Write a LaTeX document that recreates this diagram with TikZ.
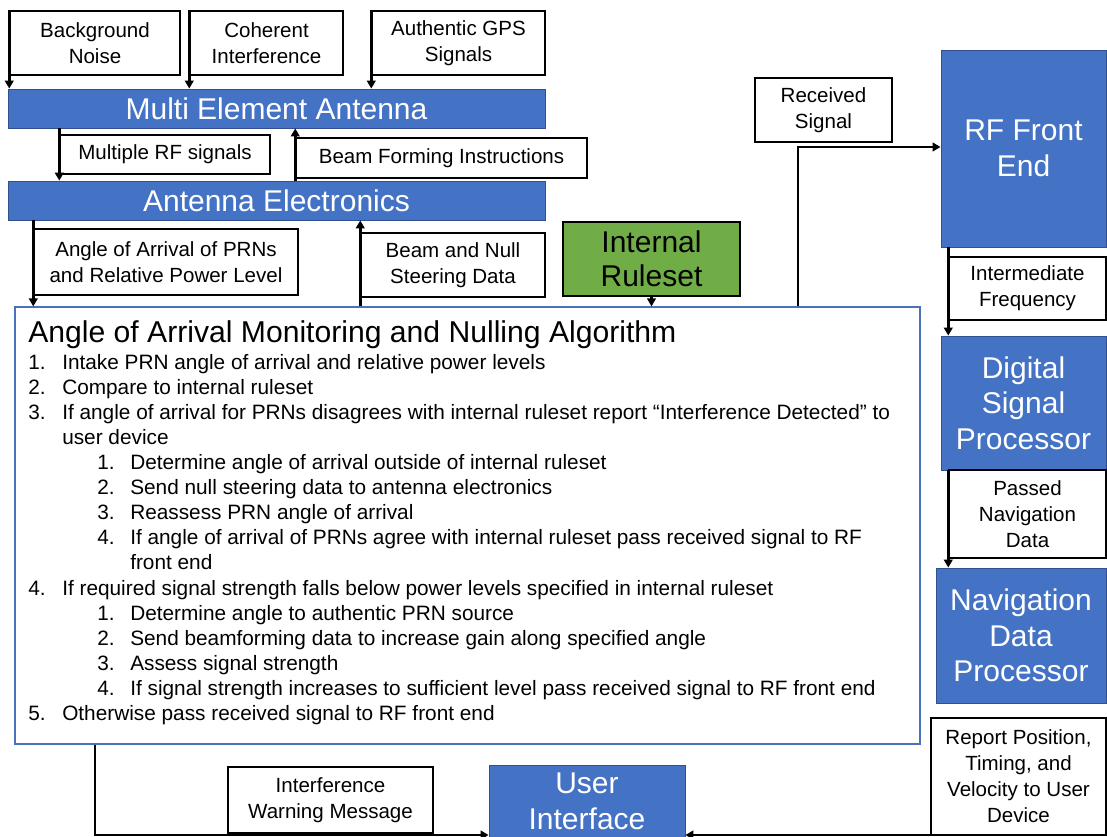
\documentclass[tikz,border=0pt]{standalone}
\usepackage{fontspec}
\setmainfont{Liberation Sans}
\usetikzlibrary{arrows.meta,calc}
\definecolor{boxblue}{HTML}{4472C4}
\definecolor{boxblueedge}{HTML}{2F528F}
\definecolor{rulegreen}{HTML}{70AD47}
\definecolor{algedge}{HTML}{4A72B8}
% \spanbox{style}{x1}{y1}{x2}{y2}{name} starts a rectangular node between two corners
\newcommand{\spanbox}[6]{\node[#1, minimum width={(#4-#2)*0.75pt}, minimum height={(#5-#3)*0.75pt},
  anchor=center] (#6) at ({(#2+#4)/2},{(#3+#5)/2})}
\begin{document}
\begin{tikzpicture}[x=0.75pt,y=-0.75pt,
  lbl/.style={draw=black, line width=1.1pt, fill=white, inner sep=0pt, align=center,
    font=\fontsize{15.4}{19.5}\selectfont},
  blk/.style={draw=boxblueedge, line width=0.6pt, fill=boxblue, text=white, inner sep=0pt,
    align=center, font=\fontsize{22.5}{26.6}\selectfont},
  rules/.style={draw=black, line width=1.1pt, fill=rulegreen, text=black, inner sep=0pt,
    align=center, font=\fontsize{22.5}{25.5}\selectfont},
  algbox/.style={draw=algedge, line width=0.9pt, fill=white, inner sep=0pt},
  algtitle/.style={inner sep=0pt, anchor=base west, font=\fontsize{22.6}{27}\selectfont},
  algline/.style={inner sep=0pt, anchor=base west, font=\fontsize{15.6}{18.8}\selectfont},
  flow/.style={draw=black, line width=2.2pt, -{Triangle[length=6pt,width=6.5pt]}}]

\useasboundingbox (0,0) rectangle (1107,837);
\clip (0,0) rectangle (1107,837);

% signal sources and antenna chain
\spanbox{lbl}{10}{11}{180}{75}{bgn} {Background\\Noise};
\spanbox{lbl}{190}{11}{343}{75}{coh} {Coherent\\Interference};
\spanbox{lbl}{372}{11}{545}{75}{gps} {Authentic GPS\\Signals};
\spanbox{blk}{8}{89}{545}{128}{mea} {Multi Element Antenna};
\spanbox{lbl}{60}{135}{270}{174}{mrf} {Multiple RF signals};
\spanbox{lbl}{296}{138}{587}{178}{bfi} {Beam Forming Instructions};
\spanbox{blk}{8}{181}{545}{220}{ae} {Antenna Electronics};
\spanbox{lbl}{34}{229}{298}{295}{aoa} {Angle of Arrival of PRNs\\and Relative Power Level};
\spanbox{lbl}{361}{233}{545}{297}{bns} {Beam and Null\\Steering Data};
\spanbox{rules}{563}{222}{740}{296}{irs} {Internal\\Ruleset};

% algorithm block
\spanbox{algbox}{15}{307}{920}{744}{alg} {};
\node[algtitle] (ttl) at (28,343) {Angle of Arrival Monitoring and Nulling Algorithm};
\node[algline] (s1) at (28,370) {\makebox[25.5pt][l]{1.}Intake PRN angle of arrival and relative power levels};
\node[algline] (s2) at (28,395) {\makebox[25.5pt][l]{2.}Compare to internal ruleset};
\node[algline] (s3) at (28,420) {\makebox[25.5pt][l]{3.}If angle of arrival for PRNs disagrees with internal ruleset report “Interference Detected” to};
\node[algline] (s3b) at (62,445) {user device};
\node[algline] (s31) at (97,470) {\makebox[24.75pt][l]{1.}Determine angle of arrival outside of internal ruleset};
\node[algline] (s32) at (97,495) {\makebox[24.75pt][l]{2.}Send null steering data to antenna electronics};
\node[algline] (s33) at (97,520) {\makebox[24.75pt][l]{3.}Reassess PRN angle of arrival};
\node[algline] (s34) at (97,545) {\makebox[24.75pt][l]{4.}If angle of arrival of PRNs agree with internal ruleset pass received signal to RF};
\node[algline] (s34b) at (130,570) {front end};
\node[algline] (s4) at (28,595) {\makebox[25.5pt][l]{4.}If required signal strength falls below power levels specified in internal ruleset};
\node[algline] (s41) at (97,620) {\makebox[24.75pt][l]{1.}Determine angle to authentic PRN source};
\node[algline] (s42) at (97,645) {\makebox[24.75pt][l]{2.}Send beamforming data to increase gain along specified angle};
\node[algline] (s43) at (97,670) {\makebox[24.75pt][l]{3.}Assess signal strength};
\node[algline] (s44) at (97,695) {\makebox[24.75pt][l]{4.}If signal strength increases to sufficient level pass received signal to RF front end};
\node[algline] (s5) at (28,720) {\makebox[25.5pt][l]{5.}Otherwise pass received signal to RF front end};

% receiver chain
\spanbox{lbl}{755}{78}{892}{142}{rsg} {Received\\Signal};
\spanbox{blk}{941}{50}{1106}{247}{rfe} {RF Front\\End};
\spanbox{lbl}{949}{257}{1106}{320}{ifq} {Intermediate\\Frequency};
\spanbox{blk}{941}{336}{1106}{470}{dsp} {Digital\\Signal\\Processor};
\spanbox{lbl}{949}{470}{1106}{558}{pnd} {Passed\\Navigation\\Data};
\spanbox{blk}{936}{568}{1106}{703}{ndp} {Navigation\\Data\\Processor};
\spanbox{lbl}{931}{718}{1106}{835}{rep} {Report Position,\\Timing, and\\Velocity to User\\Device};
\spanbox{lbl}{228}{767}{433}{833}{iwm} {Interference\\Warning Message};
\spanbox{blk}{489}{765}{685}{838}{ui} {User\\Interface};

% connectors
\draw[flow] (bgn.north west) -- (bgn.north west |- mea.north);
\draw[flow] (coh.north west) -- (coh.north west |- mea.north);
\draw[flow] (gps.north west) -- (gps.north west |- mea.north);
\draw[flow] (mrf.north west |- mea.south) -- (mrf.north west |- ae.north);
\draw[flow] (bfi.south west |- ae.north) -- (bfi.south west |- mea.south);
\draw[flow] (aoa.north west |- ae.south) -- (aoa.north west |- alg.north);
\draw[flow] (bns.south west |- alg.north) -- (bns.south west |- ae.south);
\draw[flow] (irs.south) -- (irs.south |- alg.north);
\coordinate (rsbend) at (798,147);
\draw[flow] (rsbend |- alg.north) -- (rsbend) -- (rsbend -| rfe.west);
\draw[flow] (ifq.north west |- rfe.south) -- (ifq.north west |- dsp.north);
\draw[flow] (pnd.north west |- dsp.south) -- (pnd.north west |- ndp.north);
\coordinate (ltcorner) at (95,835);
\draw[flow] (ltcorner |- alg.south) -- (ltcorner) -- (ltcorner -| ui.west);
\coordinate (rtend) at (1107,835);
\draw[flow] (rtend) -- (rtend -| ui.east);
\end{tikzpicture}
\end{document}
